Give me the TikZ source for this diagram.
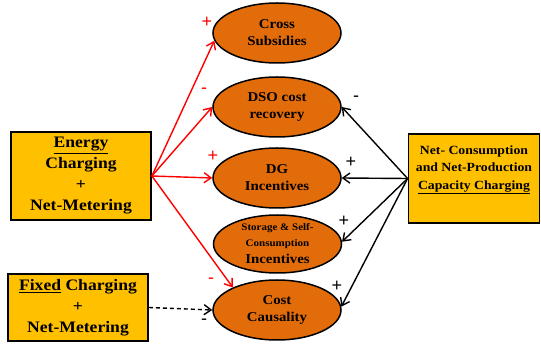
\documentclass[tikz,border=0pt]{standalone}
\usepackage{fontspec}
\setmainfont[FakeStretch=1.1]{Liberation Serif}
\newfontfamily\signfont{Liberation Sans}
\usetikzlibrary{shapes.geometric,arrows.meta}
\definecolor{boxfill}{HTML}{FFC000}
\definecolor{ellfill}{HTML}{E36C0A}
\begin{document}
\begin{tikzpicture}[x=1pt,y=-1pt,
  box/.style={draw=black, line width=1.8pt, fill=boxfill, align=center,
    font=\bfseries\fontsize{16}{21}\selectfont, inner sep=0},
  ell/.style={ellipse, draw=black, line width=1.5pt, fill=ellfill,
    minimum width=128pt, minimum height=60pt, inner sep=0, align=center,
    font=\bfseries\fontsize{13.5}{17}\selectfont},
  redarr/.style={draw=red, line width=1.4pt, -{Straight Barb[length=7pt,width=10pt]}},
  blkarr/.style={draw=black, line width=1.4pt, -{Straight Barb[length=7pt,width=10pt]}},
  dasharr/.style={draw=black, line width=1.4pt, dash pattern=on 4pt off 3pt, -{Straight Barb[length=7pt,width=10pt]}},
  sign/.style={font=\signfont\fontsize{18}{18}\selectfont, inner sep=0},
  txt/.style={align=center, font=\bfseries\fontsize{12.5}{17.5}\selectfont, inner sep=0}
]
\path[fill=white] (0,0) rectangle (541,344);
\useasboundingbox (0,0) rectangle (541,344);

\node[box, minimum width=140pt, minimum height=88pt] (en) at (81,176)
  {\underline{Energy}\\Charging\\+\\Net-Metering};
\node[box, minimum width=140pt, minimum height=67pt] (fx) at (78,307.5)
  {\underline{Fixed} Charging\\+\\Net-Metering};
\node[box, minimum width=131pt, minimum height=89pt] (rb) at (474,178.5) {};
\node[txt] (rbt) at (474,170)
  {Net- Consumption\\and Net-Production\\\underline{Capacity Charging}};

\node[ell] (cs) at (277,33) {Cross\\Subsidies};
\node[ell] (dso) at (277,107) {DSO cost\\recovery};
\node[ell] (dg) at (277,178) {DG\\Incentives};
\node[ell, minimum height=58pt] (sto) at (277.5,244)
  {{\fontsize{10}{12}\selectfont Storage \& Self-}\\[-1pt]{\fontsize{10}{12}\selectfont Consumption}\\Incentives};
\node[ell] (cc) at (277,310) {Cost\\Causality};

\draw[redarr] (en.east) -- (cs.187);
\draw[redarr] (en.east) -- (dso.west);
\draw[redarr] (en.east) -- (dg.west);
\draw[redarr] (en.east) -- (cc.153);

\draw[blkarr] (rb.west) -- (dso.east);
\draw[blkarr] (rb.west) -- (dg.east);
\draw[blkarr] (rb.west) -- (sto.2);
\draw[blkarr] (rb.west) -- (cc.3);

\draw[dasharr] (fx.east) -- (cc.west);

\node[sign, text=red] (s1) at (207,22) {+};
\node[sign, text=red] (s2) at (204,91) {-};
\node[sign, text=red] (s3) at (213,156) {+};
\node[sign, text=red] (s4) at (211,281) {-};
\node[sign] (s5) at (356,99) {-};
\node[sign] (s6) at (351,162) {+};
\node[sign] (s7) at (344,221) {+};
\node[sign] (s8) at (337,286) {+};
\node[sign] (s9) at (204,322) {-};
\end{tikzpicture}
\end{document}
